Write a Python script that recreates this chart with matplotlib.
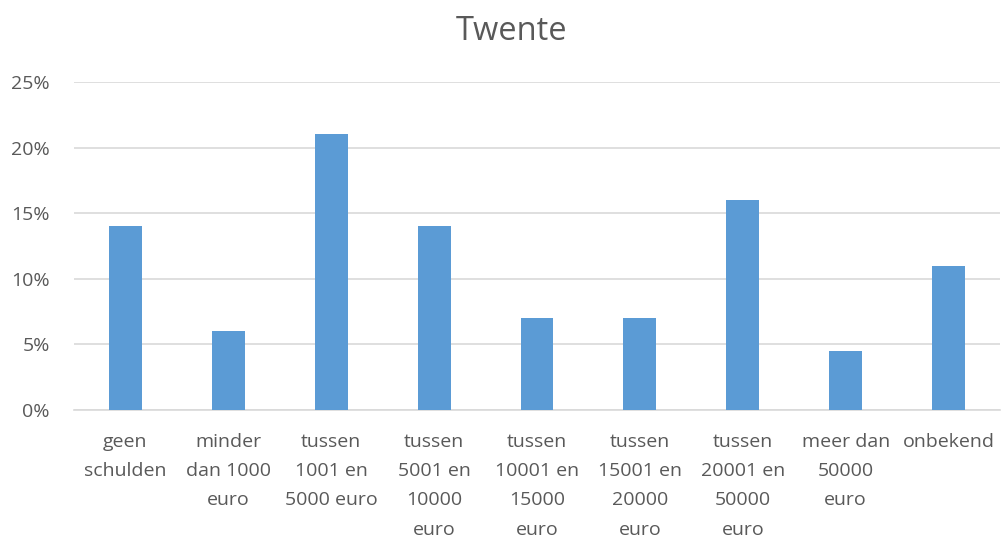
import numpy as np
import matplotlib.pyplot as plt
from matplotlib.ticker import PercentFormatter

# Twente - schulden per categorie
categories = ['geen\nschulden', 'minder\ndan 1000\neuro', 'tussen\n1001 en\n5000 euro',
              'tussen\n5001 en\n10000\neuro', 'tussen\n10001 en\n15000\neuro',
              'tussen\n15001 en\n20000\neuro', 'tussen\n20001 en\n50000\neuro',
              'meer dan\n50000\neuro', 'onbekend']
values = [0.14, 0.06, 0.21, 0.14, 0.07, 0.07, 0.16, 0.045, 0.11]

plt.rcParams['font.family'] = ['Open Sans', 'DejaVu Sans']
grey = '#595959'

fig = plt.figure(figsize=(10.01, 5.37), dpi=100)
ax = fig.add_axes([74/1001, 1 - 410/537, 926/1001, 328/537])

x = np.arange(len(categories))
ax.bar(x, values, width=0.32, color='#5b9bd5', zorder=3)

ax.set_xlim(-0.5, len(categories) - 0.5)
ax.set_ylim(0, 0.25)
ax.set_yticks(np.arange(0, 0.26, 0.05))
ax.yaxis.set_major_formatter(PercentFormatter(1.0, decimals=0))
ax.set_xticks(x)
ax.set_xticklabels(categories, linespacing=1.8)
ax.tick_params(axis='both', length=0, labelsize=14, colors=grey)
ax.tick_params(axis='x', pad=16.5)
ax.tick_params(axis='y', pad=17.5)
ax.grid(axis='y', color='#d9d9d9', linewidth=1.2, zorder=0)
for s in ['top', 'right', 'left']:
    ax.spines[s].set_visible(False)
ax.spines['bottom'].set_color('#d9d9d9')
ax.spines['bottom'].set_linewidth(1.2)

fig.suptitle('Twente', x=512/1001, y=0.972, fontsize=23.5, color=grey)

fig.savefig('out.png', dpi=100)
